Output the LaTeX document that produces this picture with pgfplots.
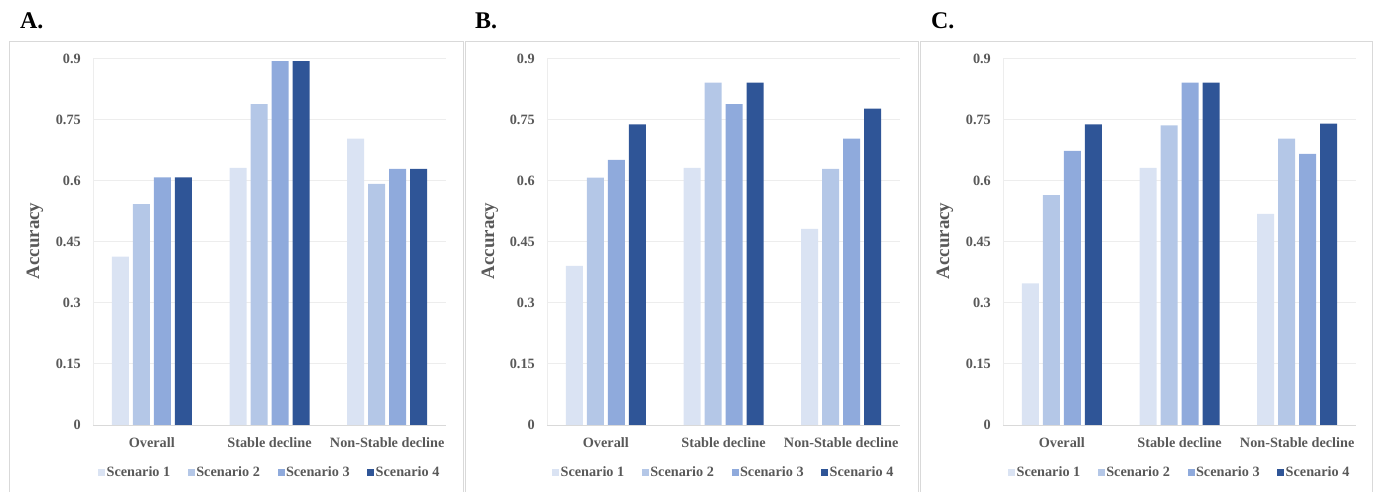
\documentclass[border=0pt]{standalone}
\usepackage{fontspec}
\setmainfont{Liberation Serif}
\usepackage{pgfplots}
\pgfplotsset{compat=1.18}
\definecolor{sA}{HTML}{DAE3F3}
\definecolor{sB}{HTML}{B4C7E7}
\definecolor{sC}{HTML}{8FAADC}
\definecolor{sD}{HTML}{2F5597}
\definecolor{tgray}{HTML}{595959}
\definecolor{gridc}{HTML}{EDEDED}
\definecolor{axc}{HTML}{D9D9D9}
\definecolor{framec}{HTML}{D9D9D9}
\newcommand{\lblfont}{\fontsize{14.3pt}{17pt}\selectfont\bfseries}
\pgfplotsset{
  mybar/.style={ybar, bar width=17bp, draw=none, fill=#1,
    legend image code/.code={\fill[fill=#1] (0bp,-3.5bp) rectangle (7bp,3.5bp);}},
  panel/.style={
    at={(#1,67bp)}, anchor=south west, width=353bp, height=366bp, scale only axis,
    ymin=0, ymax=0.9, xmin=-0.5, xmax=2.5,
    ytick={0,0.15,0.3,0.45,0.6,0.75,0.9},
    yticklabels={0,0.15,0.3,0.45,0.6,0.75,0.9},
    xtick={0,1,2}, xticklabels={Overall,Stable decline,Non-Stable decline},
    major tick length=0,
    ymajorgrids, grid style={draw=gridc, line width=1bp},
    axis x line*=bottom, axis y line*=left,
    x axis line style={draw=axc, line width=1bp, -},
    y axis line style={draw=gridc, line width=1bp, -},
    ticklabel style={font=\lblfont, text=tgray},
    yticklabel style={anchor=east, inner sep=0pt, xshift=-12bp},
    xticklabel style={anchor=base, inner sep=0pt, yshift=-22bp},
    legend style={at={(0.5,0)}, anchor=center, yshift=-47bp, draw=none,
      legend columns=4, font=\lblfont, text=tgray, fill=none,
      /tikz/every even column/.append style={column sep=16bp},
      nodes={inner xsep=1.5bp}},
    legend cell align=left,
  }
}
\begin{document}
\begin{tikzpicture}
\useasboundingbox (0bp,0bp) rectangle (1376bp,492bp);
% panel frames
\draw[framec, line width=1bp] (9bp,-2bp) -- (9bp,450bp) -- (463bp,450bp) -- (463bp,-2bp);
\draw[framec, line width=1bp] (465bp,-2bp) -- (465bp,450bp) -- (918bp,450bp) -- (918bp,-2bp);
\draw[framec, line width=1bp] (920bp,-2bp) -- (920bp,450bp) -- (1372bp,450bp) -- (1372bp,-2bp);
% titles
\node[anchor=west, inner sep=0pt, font=\fontsize{24pt}{26pt}\selectfont\bfseries] at (20bp,471bp) {A.};
\node[anchor=west, inner sep=0pt, font=\fontsize{24pt}{26pt}\selectfont\bfseries] at (475bp,471bp) {B.};
\node[anchor=west, inner sep=0pt, font=\fontsize{24pt}{26pt}\selectfont\bfseries] at (931bp,471bp) {C.};
% y labels
\node[rotate=90, inner sep=0pt, font=\fontsize{19pt}{21pt}\selectfont\bfseries, text=tgray] at (35bp,251bp) {Accuracy};
\node[rotate=90, inner sep=0pt, font=\fontsize{19pt}{21pt}\selectfont\bfseries, text=tgray] at (490bp,251bp) {Accuracy};
\node[rotate=90, inner sep=0pt, font=\fontsize{19pt}{21pt}\selectfont\bfseries, text=tgray] at (945bp,251bp) {Accuracy};

\begin{axis}[panel=93bp]
\addplot[mybar=sA, bar shift=-31.5bp] coordinates {(0,0.414) (1,0.632) (2,0.704)};
\addplot[mybar=sB, bar shift=-10.5bp] coordinates {(0,0.543) (1,0.789) (2,0.593)};
\addplot[mybar=sC, bar shift=10.5bp] coordinates {(0,0.609) (1,0.895) (2,0.630)};
\addplot[mybar=sD, bar shift=31.5bp] coordinates {(0,0.609) (1,0.895) (2,0.630)};
\legend{Scenario 1,Scenario 2,Scenario 3,Scenario 4}
\end{axis}

\begin{axis}[panel=547bp]
\addplot[mybar=sA, bar shift=-31.5bp] coordinates {(0,0.391) (1,0.632) (2,0.482)};
\addplot[mybar=sB, bar shift=-10.5bp] coordinates {(0,0.608) (1,0.842) (2,0.630)};
\addplot[mybar=sC, bar shift=10.5bp] coordinates {(0,0.652) (1,0.789) (2,0.704)};
\addplot[mybar=sD, bar shift=31.5bp] coordinates {(0,0.739) (1,0.842) (2,0.778)};
\legend{Scenario 1,Scenario 2,Scenario 3,Scenario 4}
\end{axis}

\begin{axis}[panel=1003bp]
\addplot[mybar=sA, bar shift=-31.5bp] coordinates {(0,0.348) (1,0.632) (2,0.519)};
\addplot[mybar=sB, bar shift=-10.5bp] coordinates {(0,0.565) (1,0.737) (2,0.704)};
\addplot[mybar=sC, bar shift=10.5bp] coordinates {(0,0.674) (1,0.842) (2,0.667)};
\addplot[mybar=sD, bar shift=31.5bp] coordinates {(0,0.739) (1,0.842) (2,0.741)};
\legend{Scenario 1,Scenario 2,Scenario 3,Scenario 4}
\end{axis}
\end{tikzpicture}
\end{document}
